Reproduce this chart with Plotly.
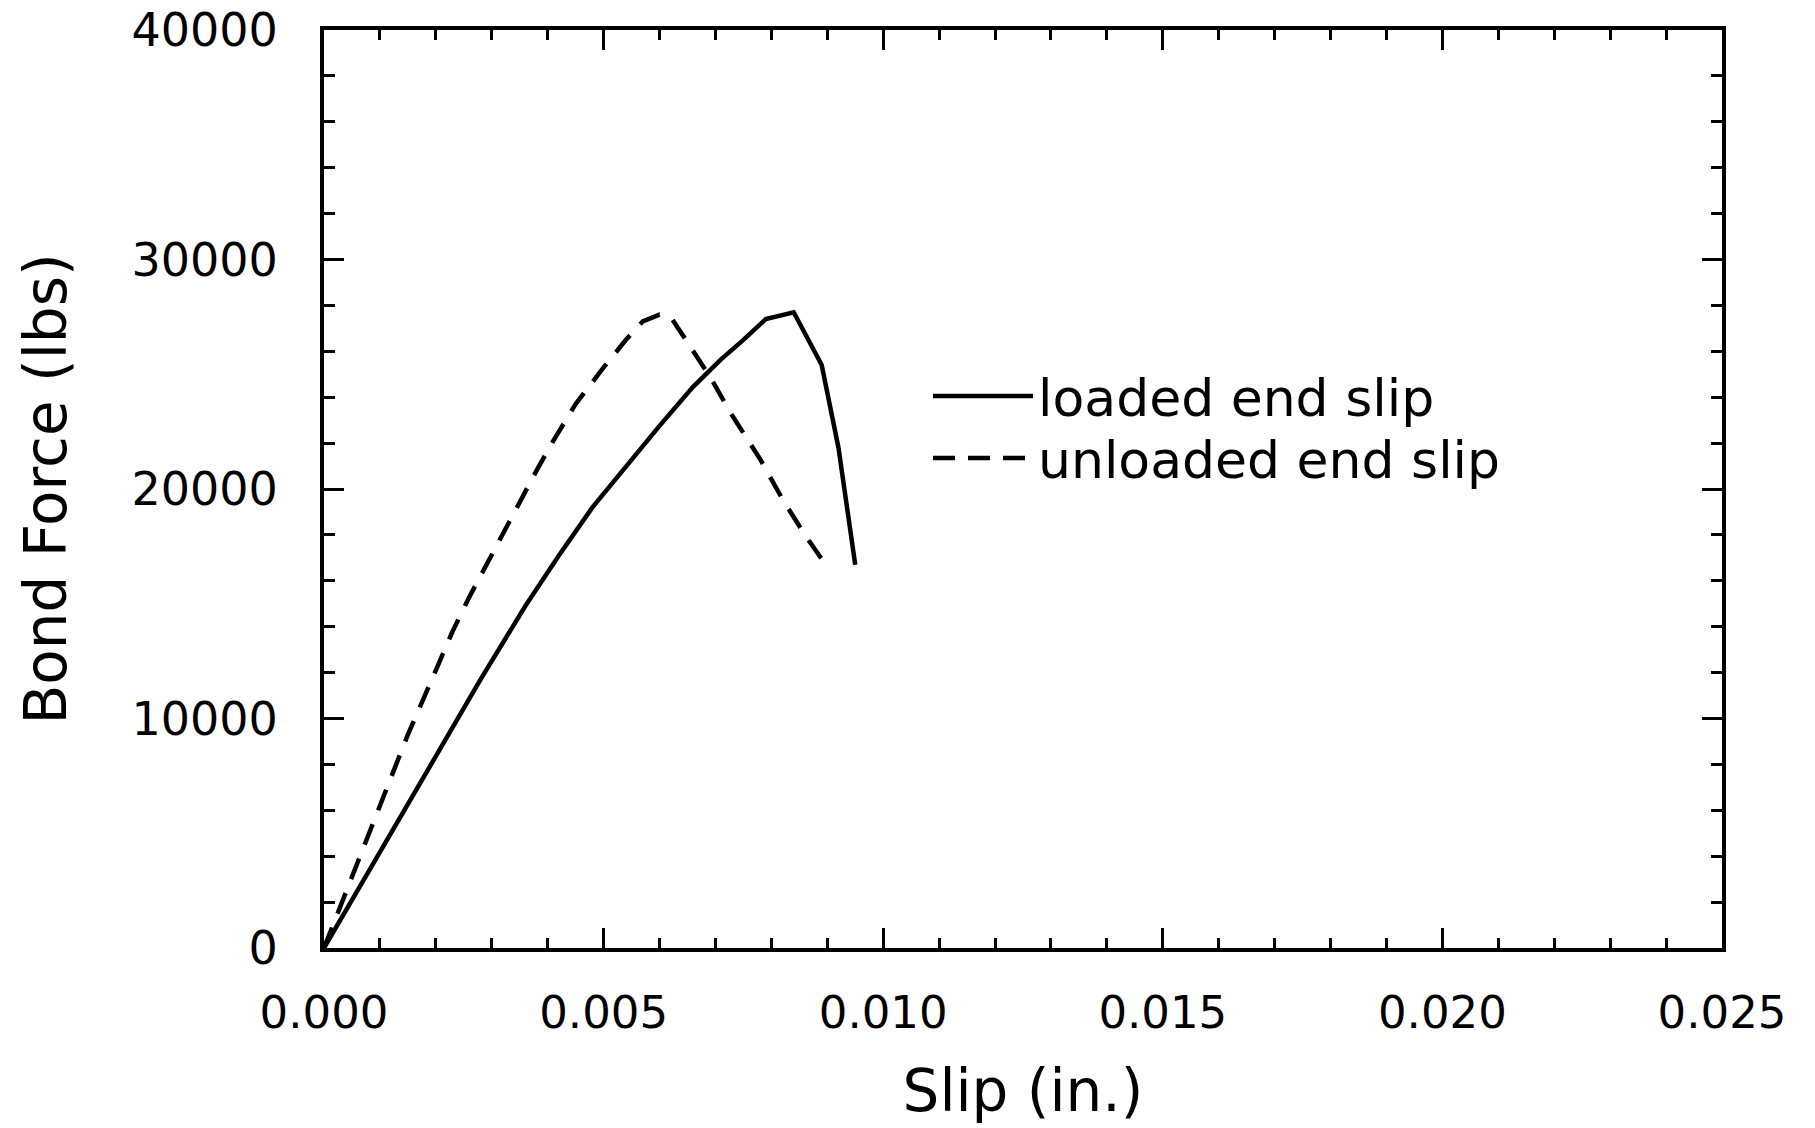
import plotly.graph_objects as go

# ---- data ----
loaded_slip = [0.0, 0.0010, 0.0020, 0.0028, 0.0036, 0.0042, 0.0048, 0.0054,
               0.0060, 0.0066, 0.0071, 0.0075, 0.0079, 0.0084, 0.0089, 0.0092, 0.0095]
loaded_force = [0, 4200, 8400, 11700, 14900, 17100, 19200, 21000,
                22750, 24450, 25650, 26500, 27400, 27700, 25400, 21800, 16700]

unloaded_slip = [0.0, 0.0005, 0.0010, 0.0015, 0.0020, 0.0023, 0.0026, 0.0029,
                 0.0032, 0.0035, 0.0038, 0.0041, 0.0045, 0.0050, 0.0054, 0.0057,
                 0.0060, 0.0062, 0.0065, 0.0069, 0.0073, 0.0078, 0.0082, 0.0086, 0.0089]
unloaded_force = [0, 3100, 6200, 9300, 12100, 13800, 15300, 16700,
                  18100, 19500, 20800, 22100, 23700, 25300, 26500, 27300,
                  27600, 27500, 26350, 24900, 23200, 21300, 19550, 18000, 16950]

series_names = ["loaded end slip", "unloaded end slip"]
x_ticks = [0.000, 0.005, 0.010, 0.015, 0.020, 0.025]
y_ticks = [0, 10000, 20000, 30000, 40000]
x_title = "Slip (in.)"
y_title = "Bond Force (lbs)"

FONT = "DejaVu Sans"
W, H = 1815, 1128
L, R, T, B = 324, 1722, 30, 948

fig = go.Figure()
fig.add_trace(go.Scatter(x=loaded_slip, y=loaded_force, mode="lines",
                         name=series_names[0], showlegend=False,
                         line=dict(color="black", width=4.5)))
fig.add_trace(go.Scatter(x=unloaded_slip, y=unloaded_force, mode="lines",
                         name=series_names[1], showlegend=False,
                         line=dict(color="black", width=4.5, dash="22px,15px")))

axis_common = dict(
    showgrid=False, zeroline=False, showline=True, linecolor="black", linewidth=4,
    mirror="allticks", ticks="inside", ticklen=20, tickwidth=3, tickcolor="black",
    ticklabeloverflow="allow", automargin=False,
)

fig.update_xaxes(
    range=[-0.0000001, 0.0250001], tickvals=x_ticks, ticktext=[f"{v:.3f}" for v in x_ticks],
    tickfont=dict(family=FONT, size=45, color="black"),
    minor=dict(dtick=0.001, ticks="inside", ticklen=10, tickwidth=3, tickcolor="black"),
    title=dict(text=x_title, font=dict(family=FONT, size=58, color="black"), standoff=33),
    ticklabelstandoff=22,
    **axis_common,
)
fig.update_yaxes(
    range=[-0.5, 40000.5], tickvals=y_ticks, ticktext=[str(v) for v in y_ticks],
    tickfont=dict(family=FONT, size=46, color="black"),
    minor=dict(dtick=2000, ticks="inside", ticklen=11, tickwidth=3, tickcolor="black"),
    title=dict(text=y_title, font=dict(family=FONT, size=58, color="black"), standoff=47),
    ticklabelstandoff=33,
    **axis_common,
)

# legend drawn as sample lines + labels inside the plot
def px_x(p):
    return (p - L) / (R - L)

def px_y(p):
    return (B - p) / (B - T)

legend_rows = [(396.0, "solid"), (458.0, "22px,13px")]
for (yy, dash), name in zip(legend_rows, series_names):
    fig.add_shape(type="line", xref="paper", yref="paper",
                  x0=px_x(933), x1=px_x(1033), y0=px_y(yy), y1=px_y(yy),
                  line=dict(color="black", width=4.5, dash=dash))
    fig.add_annotation(xref="paper", yref="paper", x=px_x(1036), y=px_y(yy + 2),
                       xanchor="left", yanchor="middle", showarrow=False,
                       text=name, font=dict(family=FONT, size=52, color="black"))

fig.update_layout(
    width=W, height=H, autosize=False,
    margin=dict(l=L, r=W - R, t=T, b=H - B, pad=0, autoexpand=False),
    paper_bgcolor="white", plot_bgcolor="white",
)

fig.write_html("out.html", config={"displayModeBar": False},
               post_script="document.body.style.margin='0';")
